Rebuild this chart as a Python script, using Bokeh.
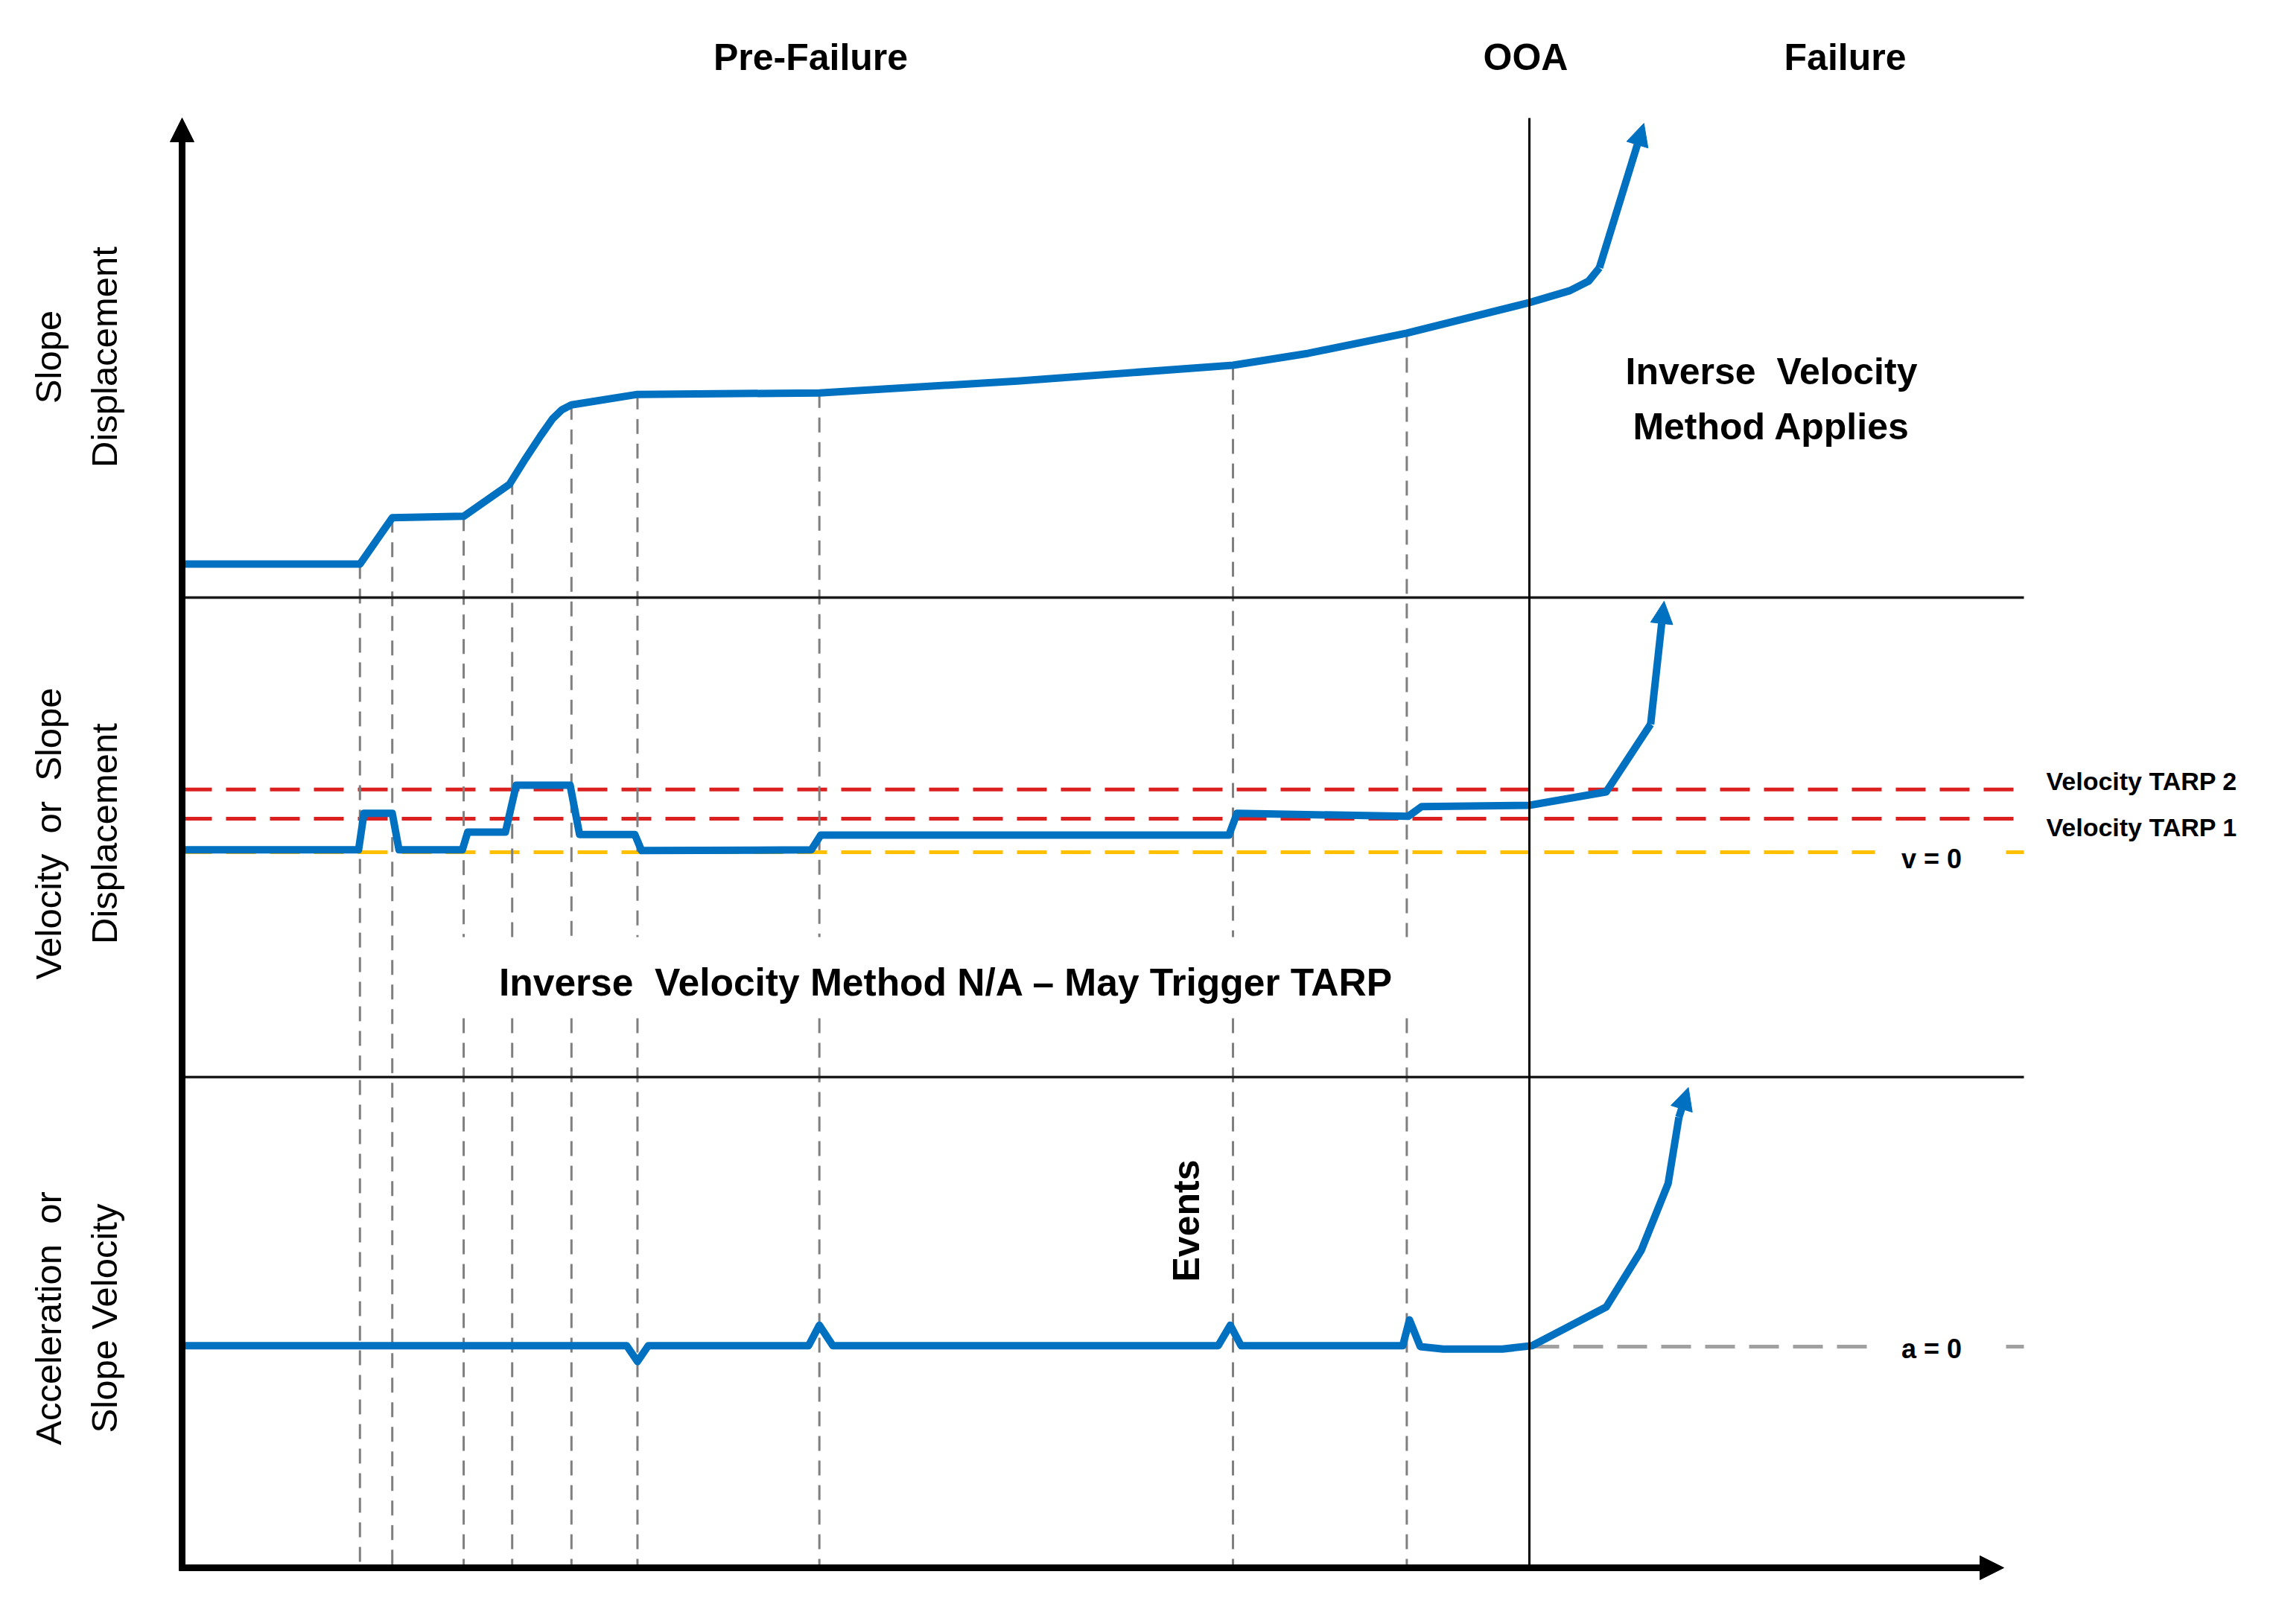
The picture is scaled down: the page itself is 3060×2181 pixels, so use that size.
import numpy as np
from bokeh.plotting import figure
from bokeh.models import Range1d, Label, Arrow, NormalHead
from bokeh.embed import file_html
from bokeh.resources import INLINE

# ---------------- data (schematic units) ----------------
# time: 0 = origin of the axes, 100 = onset of acceleration (OOA)
event_times = [13.2, 15.6, 20.9, 24.5, 28.9, 33.8, 47.3, 78.0, 90.9]
ooa_time = 100.0

# slope displacement (top panel)
disp_t = [0.2, 13.2, 15.6, 20.9, 24.3, 25.5, 26.6, 27.5, 28.2, 28.9, 33.8, 47.3, 62.0,
          78.0, 83.6, 90.9, 100.0, 103.0, 104.4, 105.2]
disp_v = [0.70, 0.70, 1.67, 1.70, 2.37, 2.91, 3.38, 3.74, 3.93, 4.03, 4.25, 4.28, 4.53,
          4.86, 5.11, 5.53, 6.17, 6.42, 6.62, 6.90]
disp_tip = [108.5, 9.92]

# velocity (middle panel)
vel_t = [0.2, 13.1, 13.5, 15.6, 16.1, 20.8, 21.2, 24.0, 24.8, 28.8, 29.5, 33.6,
         34.1, 46.7, 47.4, 77.7, 78.3, 91.0, 92.0, 100.0, 105.7, 109.0]
vel_v = [0.07, 0.07, 1.16, 1.16, 0.07, 0.07, 0.60, 0.60, 2.00, 2.00, 0.53, 0.53,
         0.05, 0.07, 0.51, 0.51, 1.16, 1.07, 1.36, 1.40, 1.80, 3.82]
vel_tip = [110.0, 7.49]

# acceleration (bottom panel)
acc_t = [0.2, 33.0, 33.8, 34.6, 46.5, 47.3, 48.3, 76.9, 77.8, 78.6, 90.6, 91.1,
         91.9, 93.6, 98.0, 100.2, 105.7, 108.3, 110.3, 111.1]
acc_v = [0.03, 0.03, -0.50, 0.03, 0.03, 0.72, 0.03, 0.03, 0.72, 0.03, 0.03, 0.90,
         0.00, -0.08, -0.08, 0.03, 1.33, 3.23, 5.48, 7.70]
acc_tip = [111.8, 8.70]

tarp_levels = [1.0, 1.87]
tarp_labels = ["Velocity TARP 1", "Velocity TARP 2"]
zero_labels = ["v = 0", "a = 0"]
phase_labels = ["Pre-Failure", "OOA", "Failure"]
panel_titles = [["Slope", "Displacement"],
                ["Velocity\u00a0 or\u00a0 Slope", "Displacement"],
                ["Acceleration\u00a0 or", "Slope Velocity"]]
region_labels = ["Inverse\u00a0 Velocity", "Method Applies",
                 "Inverse\u00a0 Velocity Method N/A \u2013 May Trigger TARP", "Events"]

# ---------------- layout (pixels) ----------------
W, H = 3060, 2181
ORIGIN_PX, OOA_PX, RIGHT_PX = 244, 2053, 2717
X_AXIS_PY, Y_TOP_PY, X_TIP_PX = 2105, 158, 2690
SEP_PY = [802, 1446]
DISP_ZERO, DISP_PPU = 802, 64.2
VEL_ZERO, VEL_PPU = 1144, 45.0
ACC_ZERO, ACC_PPU = 1808, 40.0
PX_PER_T = (OOA_PX - ORIGIN_PX) / ooa_time
TEXT_GAP_PY = (1258, 1367)      # gap in event lines behind the N/A text
TEXT_GAP_PX = (600, 1910)

BLUE = "#0070c0"
RED = "#dc1f1f"
GOLD = "#ffc000"
GREY = "#7f7f7f"
FONT = "Liberation Sans"


def tx(px):
    return (px - ORIGIN_PX) / PX_PER_T


def my(py):
    return H - py


def to_main(zero, ppu, v):
    return H - (zero - v * ppu)


def prange(zero, ppu):
    return Range1d(start=(zero - H) / ppu, end=zero / ppu)


p = figure(width=W, height=H, output_backend="svg", toolbar_location=None,
           x_range=Range1d(tx(0), tx(W)), y_range=Range1d(0, H),
           x_axis_location=None, y_axis_location=None, min_border=0,
           outline_line_color=None, background_fill_color="white",
           border_fill_color="white")
p.grid.visible = False
p.extra_y_ranges = {"disp": prange(DISP_ZERO, DISP_PPU),
                    "vel": prange(VEL_ZERO, VEL_PPU),
                    "acc": prange(ACC_ZERO, ACC_PPU)}

t_end = tx(RIGHT_PX)

# threshold lines
for lvl in tarp_levels:
    p.line([0, t_end], [lvl, lvl], y_range_name="vel", line_color=RED,
           line_width=5, line_dash="40 19")
gap_l, gap_r = tx(2517), tx(2693)
for rng, col in (("vel", GOLD), ("acc", "#a0a0a0")):
    start = 0 if rng == "vel" else ooa_time
    p.multi_line([[start, gap_l], [gap_r, t_end]], [[0, 0], [0, 0]],
                 y_range_name=rng, line_color=col, line_width=5, line_dash="40 19")

# event lines from displacement curve down to the time axis
ev_xs, ev_ys = [], []
for t in event_times:
    top = to_main(DISP_ZERO, DISP_PPU, np.interp(t, disp_t, disp_v))
    bottom = my(X_AXIS_PY)
    if tx(TEXT_GAP_PX[0]) < t < tx(TEXT_GAP_PX[1]):
        ev_xs += [[t, t], [t, t]]
        ev_ys += [[top, my(TEXT_GAP_PY[0])], [my(TEXT_GAP_PY[1]), bottom]]
    else:
        ev_xs.append([t, t])
        ev_ys.append([top, bottom])
p.multi_line(ev_xs, ev_ys, line_color=GREY, line_width=3, line_dash="20 13")

# curves
for t, v, rng in ((disp_t, disp_v, "disp"), (vel_t, vel_v, "vel"), (acc_t, acc_v, "acc")):
    p.line(t, v, y_range_name=rng, line_color=BLUE, line_width=10, line_join="round")

for t, v, tip, zero, ppu in ((disp_t, disp_v, disp_tip, DISP_ZERO, DISP_PPU),
                             (vel_t, vel_v, vel_tip, VEL_ZERO, VEL_PPU),
                             (acc_t, acc_v, acc_tip, ACC_ZERO, ACC_PPU)):
    p.add_layout(Arrow(x_start=t[-1], y_start=to_main(zero, ppu, v[-1]),
                       x_end=tip[0], y_end=to_main(zero, ppu, tip[1]),
                       line_color=BLUE, line_width=10,
                       end=NormalHead(size=30, fill_color=BLUE, line_color=BLUE)))

# separators and OOA line
for sy in SEP_PY:
    p.line([0, t_end], [my(sy), my(sy)], line_color="#1a1a1a", line_width=3.5)
p.line([ooa_time, ooa_time], [my(X_AXIS_PY), my(Y_TOP_PY)], line_color="black", line_width=3)

# axes
p.add_layout(Arrow(x_start=0, y_start=my(X_AXIS_PY + 4), x_end=0, y_end=my(Y_TOP_PY),
                   line_color="black", line_width=9,
                   end=NormalHead(size=32, fill_color="black", line_color="black")))
p.add_layout(Arrow(x_start=tx(ORIGIN_PX - 4), y_start=my(X_AXIS_PY), x_end=tx(X_TIP_PX),
                   y_end=my(X_AXIS_PY), line_color="black", line_width=9,
                   end=NormalHead(size=32, fill_color="black", line_color="black")))


def lab(text, px, py, size, bold=True, align="center", angle=0.0):
    p.add_layout(Label(x=tx(px), y=my(py), text=text, text_font=FONT,
                       text_font_size=f"{size}px",
                       text_font_style="bold" if bold else "normal",
                       text_align=align, text_baseline="middle", angle=angle,
                       text_color="black"))


for txt, px in zip(phase_labels, [1088, 2048, 2477]):
    lab(txt, px, 76, 50)

for (l1, l2), cy in zip(panel_titles, [479, 1119, 1770]):
    lab(l1, 64, cy, 49, bold=False, angle=np.pi / 2)
    lab(l2, 139, cy, 49, bold=False, angle=np.pi / 2)

lab(region_labels[0], 2378, 498, 50)
lab(region_labels[1], 2378, 572, 50)
lab(region_labels[2], 1270, 1318, 51.5)
lab(region_labels[3], 1592, 1639, 50, angle=np.pi / 2)

lab(tarp_labels[1], 2747, 1048, 34, align="left")
lab(tarp_labels[0], 2747, 1110, 34, align="left")
lab(zero_labels[0], 2593, 1153, 36)
lab(zero_labels[1], 2593, 1811, 36)

open("out.html", "w").write(file_html(p, INLINE))
